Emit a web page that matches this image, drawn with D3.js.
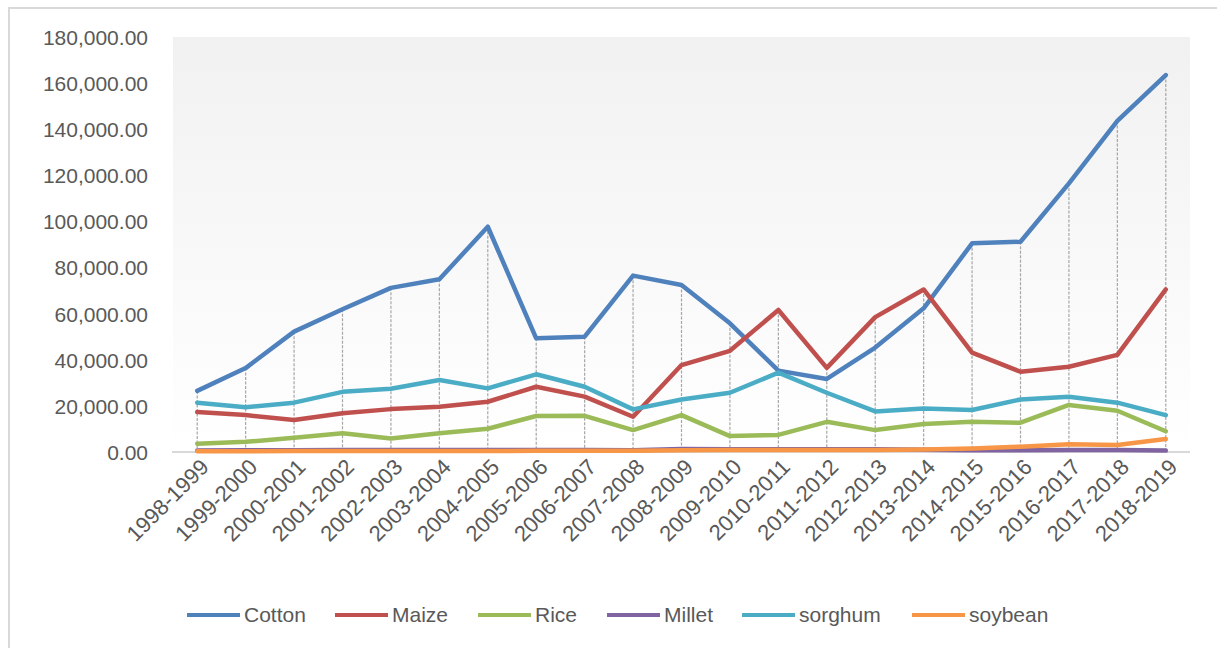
<!DOCTYPE html>
<html>
<head>
<meta charset="utf-8">
<script src="https://cdn.jsdelivr.net/npm/d3@7"></script>
<style>
  body { margin: 0; background: #fff; }
  text { font-family: "Liberation Sans", Arial, sans-serif; fill: #595959; }
</style>
</head>
<body>
<svg id="chart" width="1217" height="648"></svg>
<script>
// season labels on the x axis
var seasons = ["1998-1999", "1999-2000", "2000-2001", "2001-2002", "2002-2003", "2003-2004",
    "2004-2005", "2005-2006", "2006-2007", "2007-2008", "2008-2009", "2009-2010", "2010-2011",
    "2011-2012", "2012-2013", "2013-2014", "2014-2015", "2015-2016", "2016-2017", "2017-2018",
    "2018-2019"];

var cotton  = [26500, 36400, 52200, 61900, 71200, 74900, 97700, 49300, 50000, 76500, 72400,
    55800, 35300, 31700, 45300, 62300, 90500, 91200, 116500, 143600, 163500];
var maize   = [17300, 16000, 13900, 16800, 18600, 19600, 21800, 28300, 24000, 15300, 37700,
    43900, 61600, 36500, 58500, 70500, 43100, 34800, 37000, 42100, 70500];
var rice    = [3600, 4400, 6200, 8100, 5900, 8100, 10100, 15600, 15700, 9500, 16000,
    6900, 7400, 13100, 9500, 12100, 13100, 12700, 20400, 17900, 9000];
var millet  = [700, 800, 800, 900, 900, 900, 900, 900, 900, 800, 1300,
    1200, 1200, 1200, 1200, 1000, 800, 800, 900, 900, 600];
var sorghum = [21400, 19400, 21400, 26100, 27400, 31200, 27600, 33700, 28300, 18500, 22800,
    25700, 34400, 25700, 17600, 18900, 18200, 22800, 24000, 21400, 16000];
var soybean = [300, 300, 400, 400, 400, 400, 400, 500, 500, 500, 800,
    900, 900, 900, 900, 1100, 1500, 2300, 3400, 3000, 5600];

var seriesNames = ["Cotton", "Maize", "Rice", "Millet", "sorghum", "soybean"];
var seriesValues = [cotton, maize, rice, millet, sorghum, soybean];
var colors = ["#4f81bd", "#c0504d", "#9bbb59", "#8064a2", "#4bacc6", "#f79646"];
var yTicks = [0, 20000, 40000, 60000, 80000, 100000, 120000, 140000, 160000, 180000];

var svg = d3.select("#chart");
var plot = { left: 173, right: 1190, top: 37, bottom: 452 };

// outer frame
svg.append("rect")
    .attr("x", 9).attr("y", 8)
    .attr("width", 1300).attr("height", 700)
    .attr("fill", "none")
    .attr("stroke", "#d9d9d9")
    .attr("stroke-width", 2);

// plot area gradient
var grad = svg.append("defs").append("linearGradient")
    .attr("id", "plotGrad")
    .attr("x1", 0).attr("y1", 0).attr("x2", 0).attr("y2", 1);
grad.append("stop").attr("offset", "0%").attr("stop-color", "#f1f1f1");
grad.append("stop").attr("offset", "100%").attr("stop-color", "#ffffff");

svg.append("rect")
    .attr("x", plot.left).attr("y", plot.top)
    .attr("width", plot.right - plot.left)
    .attr("height", plot.bottom - plot.top)
    .attr("fill", "url(#plotGrad)");

var x = d3.scalePoint().domain(seasons).range([plot.left, plot.right]).padding(0.5);
var y = d3.scaleLinear().domain([0, 180000]).range([plot.bottom, plot.top]);
var fmt = d3.format(",.2f");

// y axis labels
var yAxis = d3.axisLeft(y).tickValues(yTicks).tickFormat(fmt).tickSize(0).tickPadding(0);
var gy = svg.append("g")
    .attr("transform", "translate(148,0)")
    .call(yAxis);
gy.select(".domain").remove();
gy.selectAll("text")
    .attr("font-size", "21px")
    .attr("font-family", "Liberation Sans, Arial, sans-serif")
    .attr("fill", "#595959")
    .attr("dy", "0.35em");

// drop lines from highest point to the axis
svg.append("g").selectAll("line")
    .data(seasons)
    .join("line")
    .attr("x1", function(d) { return x(d); })
    .attr("x2", function(d) { return x(d); })
    .attr("y1", function(d, i) {
        return y(d3.max(seriesValues, function(s) { return s[i]; }));
    })
    .attr("y2", plot.bottom)
    .attr("stroke", "#a6a6a6")
    .attr("stroke-width", 1.2)
    .attr("stroke-dasharray", "3,1.5");

// baseline
svg.append("line")
    .attr("x1", plot.left - 1).attr("x2", plot.right)
    .attr("y1", plot.bottom).attr("y2", plot.bottom)
    .attr("stroke", "#d9d9d9")
    .attr("stroke-width", 2);

// x axis labels
var xAxis = d3.axisBottom(x).tickSize(0).tickPadding(0);
var gx = svg.append("g")
    .attr("transform", "translate(0," + plot.bottom + ")")
    .call(xAxis);
gx.select(".domain").remove();
gx.selectAll("text")
    .attr("font-size", "22px")
    .attr("font-family", "Liberation Sans, Arial, sans-serif")
    .attr("fill", "#595959")
    .attr("text-anchor", "end")
    .attr("dy", "0.35em")
    .attr("transform", "translate(7,11) rotate(-45)");

// series lines
var line = d3.line()
    .x(function(d, i) { return x(seasons[i]); })
    .y(function(d) { return y(d); });

svg.append("g").selectAll("path")
    .data(seriesValues)
    .join("path")
    .attr("d", line)
    .attr("fill", "none")
    .attr("stroke", function(d, i) { return colors[i]; })
    .attr("stroke-width", 4.5)
    .attr("stroke-linejoin", "round")
    .attr("stroke-linecap", "round");

// legend
var legendX = [187, 335, 478, 607, 742, 912];
var legend = svg.append("g").selectAll("g")
    .data(seriesNames)
    .join("g")
    .attr("transform", function(d, i) { return "translate(" + legendX[i] + ",615)"; });
legend.append("line")
    .attr("x1", 0).attr("x2", 53)
    .attr("stroke", function(d, i) { return colors[i]; })
    .attr("stroke-width", 4);
legend.append("text")
    .attr("x", 57)
    .attr("dy", "0.35em")
    .attr("font-size", "21px")
    .text(function(d) { return d; });
</script>
</body>
</html>
